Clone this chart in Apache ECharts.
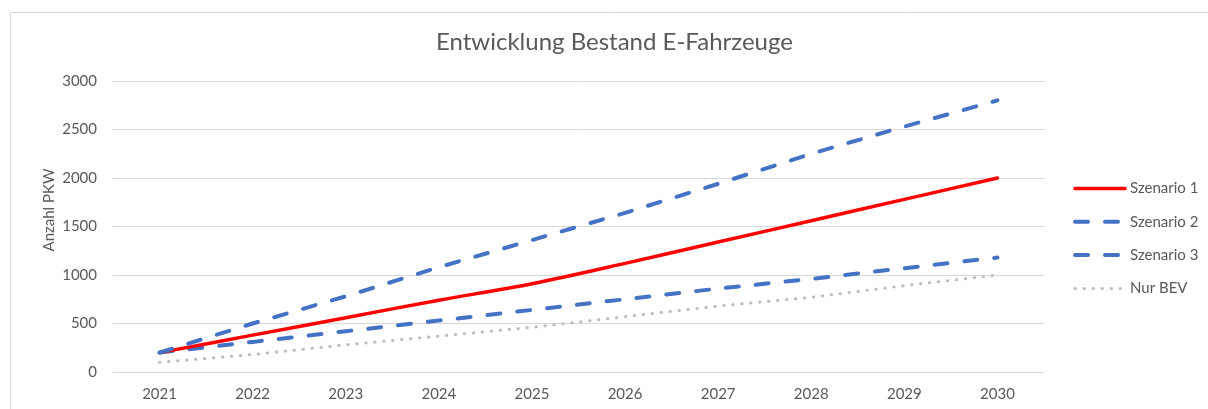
<!DOCTYPE html>
<html>
<head>
<meta charset="utf-8">
<script src="https://cdn.jsdelivr.net/npm/echarts@6/dist/echarts.min.js"></script>
<style>
  html, body { margin: 0; padding: 0; background: #fff; }
  #chart { width: 1208px; height: 409px; }
</style>
</head>
<body>
<div id="chart"></div>
<script>
// Jahre auf der x-Achse
const years = ['2021', '2022', '2023', '2024', '2025', '2026', '2027', '2028', '2029', '2030'];

// Bestand je Szenario (Anzahl PKW)
const szenario1 = [200, 380, 560, 740, 910, 1120, 1340, 1560, 1780, 2000];
const szenario2 = [200, 500, 780, 1080, 1360, 1640, 1940, 2250, 2530, 2800];
const szenario3 = [200, 310, 420, 530, 640, 750, 860, 960, 1070, 1180];
const nurBEV    = [100, 180, 280, 370, 460, 570, 680, 770, 890, 1000];

const textColor = '#595959';
const fontFamily = 'Lato, "Open Sans", sans-serif';

const redLine    = { color: '#ff0000', width: 3.5, type: 'solid', cap: 'round' };
const blueDash   = { color: '#4472c4', width: 4, type: [13, 17], cap: 'round' };
const greyDotted = { color: '#bfbfbf', width: 3, type: [0.5, 8.5], cap: 'round' };

const chart = echarts.init(document.getElementById('chart'), null, { renderer: 'canvas' });

chart.setOption({
  backgroundColor: '#ffffff',
  animation: false,
  textStyle: { fontFamily: fontFamily },
  graphic: [
    {
      type: 'rect',
      left: 8, top: 10,
      shape: { width: 1240, height: 440 },
      style: { fill: 'none', stroke: '#d9d9d9', lineWidth: 1 },
      silent: true
    },
    {
      // Achsentitel der y-Achse
      type: 'text',
      x: 49, y: 210,
      rotation: Math.PI / 2,
      style: {
        text: 'Anzahl PKW',
        fill: textColor,
        font: '15px ' + fontFamily,
        align: 'center',
        verticalAlign: 'middle'
      },
      silent: true
    }
  ],
  title: {
    text: 'Entwicklung Bestand E-Fahrzeuge',
    left: 436,
    top: 30,
    padding: 0,
    textStyle: { fontSize: 24, fontWeight: 'normal', color: textColor, fontFamily: fontFamily }
  },
  legend: {
    orient: 'vertical',
    left: 1073,
    top: 181,
    padding: 0,
    itemWidth: 50,
    itemHeight: 14,
    itemGap: 18.3,
    itemStyle: { opacity: 0 },
    textStyle: { fontSize: 15, color: textColor, fontFamily: fontFamily },
    data: [
      { name: 'Szenario 1', lineStyle: redLine },
      { name: 'Szenario 2', lineStyle: blueDash },
      { name: 'Szenario 3', lineStyle: blueDash },
      { name: 'Nur BEV', lineStyle: greyDotted }
    ]
  },
  grid: { left: 113, right: 164, top: 81, bottom: 37, containLabel: false },
  xAxis: {
    type: 'category',
    data: years,
    boundaryGap: true,
    axisLine: { show: true, lineStyle: { color: '#d9d9d9', width: 1 } },
    axisTick: { show: false },
    axisLabel: { color: textColor, fontSize: 15, margin: 15, fontFamily: fontFamily }
  },
  yAxis: {
    type: 'value',
    min: 0, max: 3000, interval: 500,
    axisLine: { show: false },
    axisTick: { show: false },
    axisLabel: {
      color: textColor, fontSize: 15, margin: 16, fontFamily: fontFamily,
      formatter: function (v) { return String(v); }
    },
    splitLine: { lineStyle: { color: '#d9d9d9', width: 1 } }
  },
  series: [
    {
      name: 'Nur BEV', type: 'line', data: nurBEV, symbol: 'none', z: 1,
      color: '#bfbfbf', lineStyle: greyDotted
    },
    {
      name: 'Szenario 3', type: 'line', data: szenario3, symbol: 'none', z: 2,
      color: '#4472c4', lineStyle: blueDash
    },
    {
      name: 'Szenario 1', type: 'line', data: szenario1, symbol: 'none', z: 3,
      smooth: 0.3,
      color: '#ff0000', lineStyle: redLine
    },
    {
      name: 'Szenario 2', type: 'line', data: szenario2, symbol: 'none', z: 4,
      color: '#4472c4', lineStyle: blueDash
    }
  ]
});
</script>
</body>
</html>
